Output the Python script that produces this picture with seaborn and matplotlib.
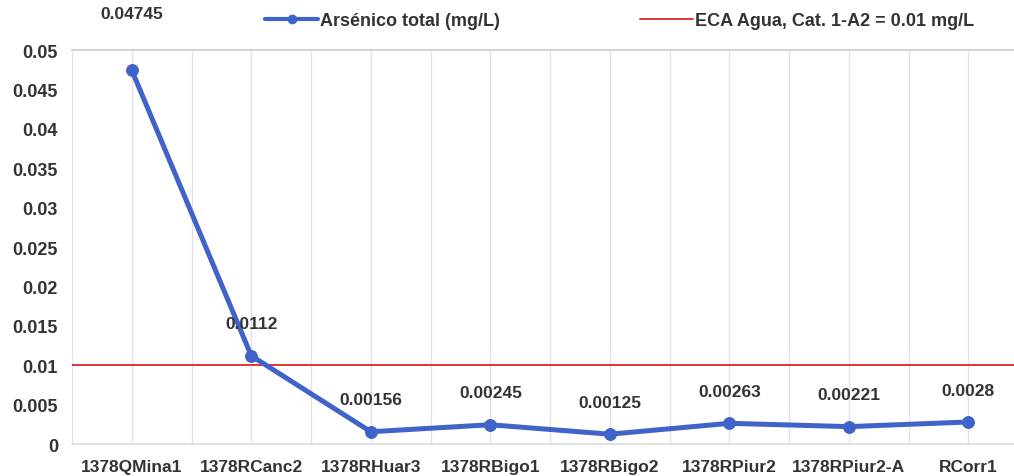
import pandas as pd
import matplotlib.pyplot as plt
import seaborn as sns
from matplotlib.lines import Line2D

# data
stations = ["1378QMina1", "1378RCanc2", "1378RHuar3", "1378RBigo1",
            "1378RBigo2", "1378RPiur2", "1378RPiur2-A", "RCorr1"]
arsenic = [0.04745, 0.0112, 0.00156, 0.00245, 0.00125, 0.00263, 0.00221, 0.0028]
labels = ["0.04745", "0.0112", "0.00156", "0.00245", "0.00125", "0.00263", "0.00221", "0.0028"]
eca_limit = 0.01
yticks = [0, 0.005, 0.01, 0.015, 0.02, 0.025, 0.03, 0.035, 0.04, 0.045, 0.05]

def main():
    sns.set_theme(style="white")
    plt.rcParams['font.family'] = ['Liberation Sans', 'DejaVu Sans']

    df = pd.DataFrame({'Estacion': stations, 'As': arsenic})

    fig = plt.figure(figsize=(10.14, 4.77), dpi=100)
    ax = fig.add_axes([0.071, 0.067, 0.943, 0.826])

    blue = '#3f63c8'
    red = '#e0333a'

    sns.lineplot(data=df, x='Estacion', y='As', ax=ax, sort=False,
                 color=blue, linewidth=3.6, marker='o', markersize=8.5,
                 markeredgecolor=blue, zorder=3)
    ax.axhline(eca_limit, color=red, linewidth=1.4, zorder=2)

    # data labels (Excel pushed the first one higher)
    for i, (v, t) in enumerate(zip(arsenic, labels)):
        off = 41 if i == 0 else 23
        ax.annotate(t, (i, v), xytext=(0, off), textcoords='offset points',
                    ha='center', va='center', fontsize=12.5, fontweight='bold',
                    family='Liberation Sans', color='#333333', annotation_clip=False)

    ax.set_xlim(-0.5, 7.5)
    ax.set_ylim(0, 0.05)
    ax.set_yticks(yticks)
    ax.set_yticklabels(['0' if v == 0 else f"{v:g}" for v in yticks])
    ax.set_xticks(range(len(stations)))
    ax.set_xticks([i + 0.5 for i in range(-1, len(stations))], minor=True)
    ax.set_xlabel('')
    ax.set_ylabel('')

    ax.grid(False)
    ax.grid(True, axis='x', which='both', color='#e2e2e2', linewidth=1)
    ax.tick_params(axis='both', which='both', length=0, labelsize=13,
                   labelcolor='#333333')
    ax.tick_params(axis='x', labelsize=12.5, pad=11)
    ax.tick_params(axis='y', pad=10)
    for lab in ax.get_xticklabels() + ax.get_yticklabels():
        lab.set_fontweight('bold')

    for s in ['left', 'right']:
        ax.spines[s].set_visible(False)
    ax.spines['top'].set_color('#cccccc')
    ax.spines['bottom'].set_color('#dddddd')

    handles = [
        Line2D([], [], color=blue, linewidth=3, marker='o', markersize=6),
        Line2D([], [], color=red, linewidth=1.4),
    ]
    fig.legend(handles, ["Arsénico total (mg/L)", "ECA Agua, Cat. 1-A2 = 0.01 mg/L"],
               loc='center', bbox_to_anchor=(0.611, 0.955), ncol=2, frameon=False,
               prop={'size': 13, 'weight': 'bold'}, handlelength=2.9,
               columnspacing=7.8, handletextpad=0.1, labelcolor='#333333')

    fig.savefig('out.png', dpi=100)
    plt.close(fig)

if __name__ == "__main__":
    main()
